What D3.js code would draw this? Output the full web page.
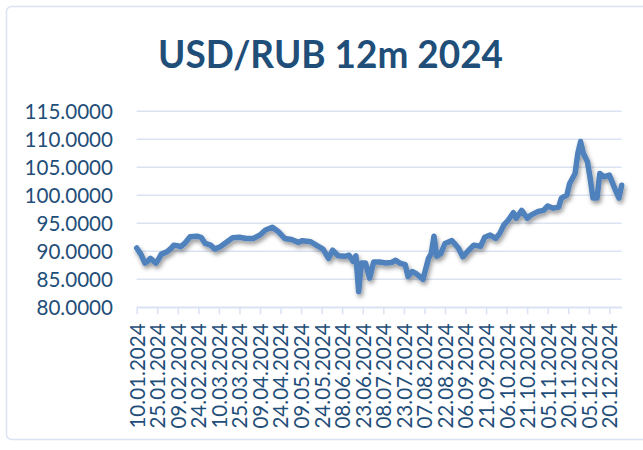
<!DOCTYPE html>
<html>
<head>
<meta charset="utf-8">
<script src="https://cdn.jsdelivr.net/npm/d3@7"></script>
<style>
  html, body { margin: 0; padding: 0; background: #fff; }
  svg { display: block; }
  text { font-family: Lato, "Open Sans", sans-serif; fill: #1f4e79; }
</style>
</head>
<body>
<svg id="chart" width="643" height="450"></svg>
<script>
// ---- Data ----
const chartTitle = "USD/RUB 12m 2024";

const dates = [
  "2024-01-10","2024-01-13","2024-01-16","2024-01-18","2024-01-20","2024-01-22","2024-01-24","2024-01-26","2024-01-28",
  "2024-02-01","2024-02-04","2024-02-06","2024-02-09","2024-02-11","2024-02-14","2024-02-18","2024-02-23","2024-02-26","2024-02-29",
  "2024-03-04","2024-03-07","2024-03-11","2024-03-16","2024-03-20","2024-03-25","2024-03-30",
  "2024-04-04","2024-04-09","2024-04-13","2024-04-18","2024-04-22","2024-04-27",
  "2024-05-02","2024-05-07","2024-05-10","2024-05-16","2024-05-20","2024-05-25","2024-05-29",
  "2024-06-01","2024-06-05","2024-06-10","2024-06-13","2024-06-16","2024-06-18","2024-06-20","2024-06-22","2024-06-25","2024-06-28",
  "2024-07-01","2024-07-05","2024-07-10","2024-07-14","2024-07-17","2024-07-20","2024-07-24","2024-07-26","2024-07-29",
  "2024-08-01","2024-08-06","2024-08-10","2024-08-12","2024-08-14","2024-08-16","2024-08-19","2024-08-22","2024-08-27","2024-08-30",
  "2024-09-01","2024-09-04","2024-09-08","2024-09-12","2024-09-17","2024-09-20","2024-09-24","2024-09-28",
  "2024-10-01","2024-10-04","2024-10-07","2024-10-11","2024-10-13","2024-10-17","2024-10-21","2024-10-24","2024-10-29",
  "2024-11-02","2024-11-05","2024-11-09","2024-11-13","2024-11-15","2024-11-19","2024-11-21","2024-11-25","2024-11-27","2024-11-29",
  "2024-12-01","2024-12-04","2024-12-06","2024-12-08","2024-12-11","2024-12-13","2024-12-16","2024-12-20","2024-12-22","2024-12-25","2024-12-27","2024-12-29"
];

const rates = [
  90.6, 89.5, 87.9, 88.2, 88.75, 88.3, 87.9, 88.6, 89.5,
  89.9, 90.5, 91.1, 91.0, 90.8, 91.4, 92.6, 92.7, 92.5, 91.4,
  91.1, 90.4, 90.8, 91.7, 92.4, 92.5, 92.3,
  92.3, 92.9, 93.8, 94.3, 93.6, 92.3,
  92.1, 91.6, 91.9, 91.7, 91.1, 90.4, 88.75,
  90.2, 89.2, 89.1, 89.3, 88.2, 89.2, 82.8, 87.9, 87.9, 85.2,
  88.1, 88.1, 87.9, 88.0, 88.4, 87.9, 87.6, 85.5, 86.4,
  86.0, 85.0, 88.75, 89.6, 92.7, 89.1, 89.6, 91.4, 91.9, 91.1,
  90.5, 89.0, 90.1, 91.1, 90.9, 92.5, 92.9, 92.3,
  93.2, 94.7, 95.5, 96.9, 95.9, 97.3, 95.9, 96.5, 97.1,
  97.3, 98.1, 97.7, 97.9, 99.5, 100.05, 102.1, 103.9, 107.5, 109.6,
  107.5, 106.0, 103.0, 99.5, 99.5, 103.9, 103.3, 103.6, 102.4, 100.6, 99.5, 101.8
];

const xTickLabels = [
  "10.01.2024","25.01.2024","09.02.2024","24.02.2024","10.03.2024","25.03.2024",
  "09.04.2024","24.04.2024","09.05.2024","24.05.2024","08.06.2024","23.06.2024",
  "08.07.2024","23.07.2024","07.08.2024","22.08.2024","06.09.2024","21.09.2024",
  "06.10.2024","21.10.2024","05.11.2024","20.11.2024","05.12.2024","20.12.2024"
];

const yTicks = [80, 85, 90, 95, 100, 105, 110, 115];
const xDomain = ["2024-01-10", "2024-12-29"];

// ---- Layout ----
const svg = d3.select("#chart");
const plot = { left: 136.7, right: 621.7, top: 111.3, bottom: 307.3 };

const parseISO = d3.utcParse("%Y-%m-%d");
const parseLabel = d3.utcParse("%d.%m.%Y");
const fmtLabel = d3.utcFormat("%d.%m.%Y");

const data = dates.map((d, i) => ({ date: parseISO(d), value: rates[i] }));

const x = d3.scaleUtc()
  .domain(xDomain.map(parseISO))
  .range([plot.left, plot.right]);

const y = d3.scaleLinear()
  .domain([80, 115])
  .range([plot.bottom, plot.top]);

// defs: shadow
const defs = svg.append("defs");
const f = defs.append("filter").attr("id", "shadow")
  .attr("x", "-5%").attr("y", "-10%").attr("width", "110%").attr("height", "130%");
f.append("feDropShadow")
  .attr("dx", 1.5).attr("dy", 3).attr("stdDeviation", 2.2)
  .attr("flood-color", "#000").attr("flood-opacity", 0.4);

// chart border
svg.append("rect")
  .attr("x", 6.5).attr("y", 6.5)
  .attr("width", 660).attr("height", 433)
  .attr("rx", 5)
  .attr("fill", "#fff")
  .attr("stroke", "#dae3f3")
  .attr("stroke-width", 1.5);

// title
svg.append("text")
  .attr("x", 330.5).attr("y", 68.3)
  .attr("text-anchor", "middle")
  .attr("font-size", 38.5)
  .attr("font-weight", "bold")
  .attr("textLength", 345)
  .attr("lengthAdjust", "spacingAndGlyphs")
  .text(chartTitle);

// gridlines
const gridColor = "#dae3f3";
svg.append("g")
  .selectAll("line")
  .data(yTicks)
  .join("line")
  .attr("x1", plot.left).attr("x2", plot.right)
  .attr("y1", d => y(d)).attr("y2", d => y(d))
  .attr("stroke", gridColor)
  .attr("stroke-width", 1.5);

// y axis labels
const yAxis = d3.axisLeft(y)
  .tickValues(yTicks)
  .tickFormat(d3.format(".4f"))
  .tickSize(0)
  .tickPadding(0);
const gy = svg.append("g")
  .attr("transform", `translate(113,0)`)
  .call(yAxis);
gy.select(".domain").remove();
gy.selectAll("text")
  .attr("font-size", 20.6)
  .attr("font-family", "Lato, sans-serif")
  .attr("fill", "#1f4e79")
  .attr("dy", "0.36em");

// x axis
const xTicks = xTickLabels.map(parseLabel);
const xAxis = d3.axisBottom(x)
  .tickValues(xTicks)
  .tickFormat(fmtLabel)
  .tickSize(7)
  .tickSizeOuter(0)
  .tickPadding(0);
const gx = svg.append("g")
  .attr("transform", `translate(0,${plot.bottom})`)
  .call(xAxis);
gx.select(".domain").attr("stroke", gridColor).attr("stroke-width", 1.5);
gx.selectAll(".tick line").attr("stroke", gridColor).attr("stroke-width", 1.5);
gx.selectAll("text")
  .attr("font-size", 20.6)
  .attr("font-family", "Lato, sans-serif")
  .attr("fill", "#1f4e79")
  .attr("text-anchor", "end")
  .attr("transform", "rotate(-90)")
  .attr("x", -16)
  .attr("y", 0)
  .attr("dy", "0.36em");

// line
const line = d3.line()
  .x(d => x(d.date))
  .y(d => y(d.value));

svg.append("path")
  .datum(data)
  .attr("d", line)
  .attr("fill", "none")
  .attr("stroke", "#4f81bd")
  .attr("stroke-width", 5.5)
  .attr("stroke-linejoin", "round")
  .attr("stroke-linecap", "round")
  .attr("filter", "url(#shadow)");
</script>
</body>
</html>
